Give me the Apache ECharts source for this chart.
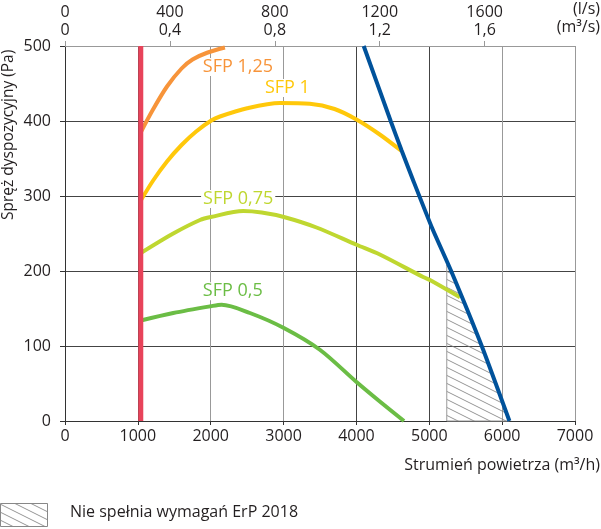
<!DOCTYPE html>
<html>
<head>
<meta charset="utf-8">
<script src="https://cdn.jsdelivr.net/npm/echarts@6/dist/echarts.min.js"></script>
<style>
  html, body { margin: 0; padding: 0; background: #fff; }
  #main { width: 601px; height: 529px; }
</style>
</head>
<body>
<div id="main"></div>
<script>
// osie
var flowTicks = [0, 1000, 2000, 3000, 4000, 5000, 6000, 7000];
var pressureTicks = [0, 100, 200, 300, 400, 500];
var topLsTicks = [0, 400, 800, 1200, 1600];
var topM3sLabels = ['0', '0,4', '0,8', '1,2', '1,6'];

// krzywe SFP (m3/h, Pa)
var sfp125Flow = [1040, 1200, 1400, 1600, 1750, 1950, 2195];
var sfp125Pressure = [385, 414, 446, 470, 482, 491, 498];

var sfp1Flow = [1040, 1212, 1400, 1600, 1800, 2013, 2127, 2500, 2950, 3360, 3700, 4000, 4320, 4619];
var sfp1Pressure = [294, 321, 346, 368, 386, 401, 406, 417, 424, 423, 416, 402, 382, 360];

var sfp075Flow = [1040, 1486, 1853, 2000, 2446, 2700, 3004, 3452, 4001, 4321, 4915, 5009, 5421];
var sfp075Pressure = [224, 250, 268, 272, 280, 278, 272, 258, 235, 222, 192, 188, 165];

var sfp05Flow = [1040, 1486, 2000, 2150, 2538, 3004, 3498, 4001, 4321, 4653];
var sfp05Pressure = [134, 144, 153, 155, 144, 124, 95, 52, 26, 0];

// granica (niebieska) i minimum (czerwona)
var limitFlow = [4100, 4470, 4619, 4778, 5040, 5300, 5720, 6100];
var limitPressure = [500, 400, 361, 321, 257, 200, 100, 0];
var minFlow = [1040, 1040];
var minPressure = [0, 500];

// obszar nie spelniajacy ErP 2018
var hatchFlow = [5240, 5240, 5300, 5720, 6100];
var hatchPressure = [0, 208, 200, 100, 0];

var sfpLabels = ['SFP 1,25', 'SFP 1', 'SFP 0,75', 'SFP 0,5'];
var sfpLabelFlow = [2373, 3052, 2377, 2302];
var sfpLabelPressure = [472, 444, 296, 173];

function zip(a, b) {
	return a.map(function (v, i) { return [v, b[i]]; });
}

var FONT = 'Open Sans';
var TXT = '#231f20';

// wzor kreskowania
function hatchPattern() {
	var c = document.createElement('canvas');
	c.width = 16; c.height = 8;
	var ctx = c.getContext('2d');
	ctx.strokeStyle = '#7a7a7a';
	ctx.lineWidth = 0.8;
	ctx.beginPath();
	ctx.moveTo(-16, -8); ctx.lineTo(32, 16);
	ctx.moveTo(-16, 0); ctx.lineTo(16, 16);
	ctx.moveTo(0, -8); ctx.lineTo(32, 8);
	ctx.stroke();
	return { image: c, repeat: 'repeat' };
}
var pattern = hatchPattern();

var chart = echarts.init(document.getElementById('main'));

function curve(name, flow, pressure, color, idx) {
	return {
		name: name, type: 'line', xAxisIndex: 0, yAxisIndex: 0,
		data: zip(flow, pressure), symbol: 'none', smooth: 0.3,
		lineStyle: { color: color, width: 4 }, z: 3, silent: true,
		markPoint: {
			symbol: 'circle', symbolSize: 0, silent: true,
			data: [{ coord: [sfpLabelFlow[idx], sfpLabelPressure[idx]], value: sfpLabels[idx] }],
			label: {
				show: true, position: 'inside', formatter: '{c}',
				color: color, fontFamily: FONT, fontSize: 18,
				backgroundColor: '#fff', padding: [0, 2]
			}
		}
	};
}

var option = {
	animation: false,
	backgroundColor: '#fff',
	grid: { left: 65, right: 26, top: 46, bottom: 108 },
	xAxis: [{
		type: 'value', position: 'bottom',
		min: flowTicks[0], max: flowTicks[flowTicks.length - 1], interval: 1000,
		axisLine: { show: true, lineStyle: { color: '#333', width: 1 } },
		axisTick: { show: true, length: 4, lineStyle: { color: '#333' } },
		axisLabel: {
			color: TXT, fontFamily: FONT, fontSize: 16, margin: 7,
			formatter: function (v) { return String(v); }
		},
		splitLine: { show: true, lineStyle: { color: ['#444', '#444', '#999', '#999', '#444', '#444', '#999', '#999'], width: 1 } }
	}, {
		type: 'value', position: 'top',
		min: 0, max: flowTicks[flowTicks.length - 1] / 3.6, interval: 400,
		axisLine: { show: true, lineStyle: { color: '#999', width: 1 } },
		axisTick: { show: true, length: 5, lineStyle: { color: '#999' } },
		axisLabel: {
			color: TXT, fontFamily: FONT, fontSize: 16, margin: 7, lineHeight: 18,
			showMaxLabel: false,
			formatter: function (v) {
				var i = topLsTicks.indexOf(Math.round(v));
				return i < 0 ? '' : topLsTicks[i] + '\n' + topM3sLabels[i];
			}
		},
		splitLine: { show: false }
	}],
	yAxis: [{
		type: 'value',
		min: pressureTicks[0], max: pressureTicks[pressureTicks.length - 1], interval: 100,
		axisLine: { show: true, lineStyle: { color: '#333', width: 1 } },
		axisTick: { show: true, length: 5, lineStyle: { color: '#333' } },
		axisLabel: { color: TXT, fontFamily: FONT, fontSize: 16, margin: 14 },
		splitLine: { show: true, lineStyle: { color: ['#444', '#444', '#444', '#444', '#444', '#999'], width: 1 } }
	}],
	series: [
		{
			type: 'custom', name: 'hatch', xAxisIndex: 0, yAxisIndex: 0, silent: true, z: 2,
			data: [0],
			renderItem: function (params, api) {
				var pts = hatchFlow.map(function (f, i) { return api.coord([f, hatchPressure[i]]); });
				return {
					type: 'polygon',
					shape: { points: pts },
					style: { fill: pattern, stroke: '#999', lineWidth: 1 }
				};
			}
		},
		curve('SFP 1,25', sfp125Flow, sfp125Pressure, '#f7943a', 0),
		curve('SFP 1', sfp1Flow, sfp1Pressure, '#ffc80a', 1),
		curve('SFP 0,75', sfp075Flow, sfp075Pressure, '#bfd730', 2),
		curve('SFP 0,5', sfp05Flow, sfp05Pressure, '#6bbd45', 3),
		{
			name: 'limit', type: 'line', data: zip(limitFlow, limitPressure),
			symbol: 'none', smooth: 0.2, silent: true, z: 4,
			lineStyle: { color: '#00529b', width: 4 }
		},
		{
			name: 'min', type: 'line', data: zip(minFlow, minPressure),
			symbol: 'none', silent: true, z: 5,
			lineStyle: { color: '#e8435a', width: 5, cap: 'butt' }
		}
	],
	graphic: [
		{ type: 'text', right: 1, top: 1, style: { text: '(l/s)', fill: TXT, font: '16px "Open Sans"', textAlign: 'right' } },
		{ type: 'text', right: 1, top: 19, style: { text: '(m³/s)', fill: TXT, font: '16px "Open Sans"', textAlign: 'right' } },
		{ type: 'text', right: 1, top: 457, style: { text: 'Strumień powietrza (m³/h)', fill: TXT, font: '16px "Open Sans"' } },
		{
			type: 'text', x: 1, y: 220, rotation: Math.PI / 2,
			style: { text: 'Spręż dyspozycyjny (Pa)', fill: TXT, font: '15.5px "Open Sans"', textVerticalAlign: 'top' }
		},
		{ type: 'rect', shape: { x: 0.5, y: 503.5, width: 47, height: 23 }, style: { fill: pattern, stroke: '#888', lineWidth: 1 } },
		{ type: 'text', left: 70, top: 504, style: { text: 'Nie spełnia wymagań ErP 2018', fill: TXT, font: '16px "Open Sans"' } }
	]
};
chart.setOption(option);
</script>
</body>
</html>
